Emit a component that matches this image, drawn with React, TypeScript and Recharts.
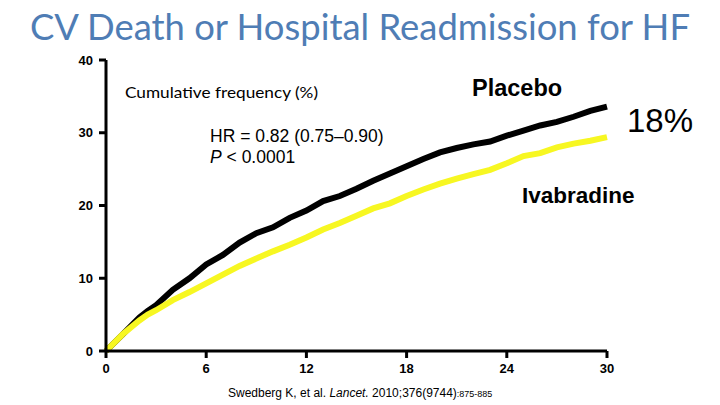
import React from "react";
import { LineChart, Line, XAxis, YAxis } from "recharts";

const months = [0, 1, 2, 2.5, 3, 4, 5, 6, 7, 8, 9, 10, 11, 12, 13, 14, 15, 16, 17, 18, 19, 20, 21, 22, 23, 24, 25, 26, 27, 28, 29, 30];
const placebo = [0, 2.3, 4.6, 5.5, 6.3, 8.4, 10.0, 11.9, 13.2, 14.9, 16.2, 17.0, 18.3, 19.3, 20.6, 21.3, 22.3, 23.4, 24.4, 25.4, 26.4, 27.3, 27.9, 28.4, 28.8, 29.6, 30.3, 31.0, 31.5, 32.2, 33.0, 33.6];
const ivabradine = [0, 2.3, 4.2, 5.0, 5.6, 7.0, 8.1, 9.3, 10.5, 11.7, 12.7, 13.7, 14.6, 15.6, 16.7, 17.6, 18.6, 19.6, 20.3, 21.3, 22.2, 23.0, 23.7, 24.3, 24.9, 25.8, 26.8, 27.2, 28.0, 28.5, 28.9, 29.4];
const xTicks = [0, 6, 12, 18, 24, 30];
const yTicks = [0, 10, 20, 30, 40];

const data = months.map((m, i) => ({ m, placebo: placebo[i], ivabradine: ivabradine[i] }));

const tickStyle = { fontFamily: "Arial, 'Liberation Sans', sans-serif", fontWeight: 700, fontSize: 13, fill: "#000" };

export default function App() {
  return (
    <div style={{ position: "absolute", left: 0, top: 0, width: 720, height: 405, background: "#fff" }}>
      <LineChart width={720} height={405} data={data} margin={{ top: 60, right: 113, bottom: 0, left: 0 }}>
        <XAxis
          dataKey="m"
          type="number"
          domain={[0, 30]}
          ticks={xTicks}
          tickSize={7}
          tickMargin={6}
          height={54}
          axisLine={{ stroke: "#000", strokeWidth: 3 }}
          tickLine={{ stroke: "#000", strokeWidth: 3 }}
          tick={tickStyle}
        />
        <YAxis
          type="number"
          domain={[0, 40]}
          ticks={yTicks}
          width={106}
          tickSize={7}
          tickMargin={6}
          axisLine={{ stroke: "#000", strokeWidth: 3 }}
          tickLine={{ stroke: "#000", strokeWidth: 3 }}
          tick={tickStyle}
        />
        <Line dataKey="placebo" stroke="#000" strokeWidth={6} dot={false} isAnimationActive={false} />
        <Line dataKey="ivabradine" stroke="#f7f722" strokeWidth={6} dot={false} isAnimationActive={false} />
        <text x={360} y={40} textAnchor="middle" textLength={660} lengthAdjust="spacingAndGlyphs" style={{ fontFamily: "Lato, 'Open Sans', sans-serif", fontSize: 36, fill: "#4f7db5" }}>
          CV Death or Hospital Readmission for HF
        </text>
        <text x={125} y={98} textLength={193} lengthAdjust="spacingAndGlyphs" style={{ fontFamily: "Lato, 'Open Sans', sans-serif", fontSize: 15, fill: "#000" }}>
          Cumulative frequency (%)
        </text>
        <text x={210} y={142} style={{ fontFamily: "Arial, 'Liberation Sans', sans-serif", fontSize: 17.5, fill: "#000" }}>
          HR = 0.82 (0.75–0.90)
        </text>
        <text x={210} y={163} style={{ fontFamily: "Arial, 'Liberation Sans', sans-serif", fontSize: 17.5, fill: "#000" }}>
          <tspan fontStyle="italic">P</tspan> &lt; 0.0001
        </text>
        <text x={472} y={96} style={{ fontFamily: "Arial, 'Liberation Sans', sans-serif", fontSize: 23.5, fontWeight: 700, fill: "#000" }}>
          Placebo
        </text>
        <text x={627} y={132} style={{ fontFamily: "Arial, 'Liberation Sans', sans-serif", fontSize: 33, fill: "#000" }}>
          18%
        </text>
        <text x={522} y={203} style={{ fontFamily: "Arial, 'Liberation Sans', sans-serif", fontSize: 22.5, fontWeight: 700, fill: "#000" }}>
          Ivabradine
        </text>
        <text x={228} y={397} style={{ fontFamily: "Arial, 'Liberation Sans', sans-serif", fontSize: 12, fill: "#000" }}>
          Swedberg K, et al. <tspan fontStyle="italic">Lancet.</tspan> 2010;376(9744)<tspan fontSize={9}>:875-885</tspan>
        </text>
      </LineChart>
    </div>
  );
}
